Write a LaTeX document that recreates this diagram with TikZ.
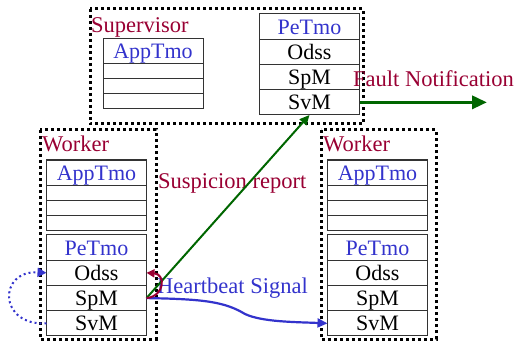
\documentclass[tikz,border=0pt]{standalone}
\usepackage{fontspec}
\setmainfont{Liberation Serif}
\usetikzlibrary{positioning,arrows.meta}

\definecolor{tmoblue}{RGB}{51,51,204}
\definecolor{labelred}{RGB}{153,0,51}
\definecolor{msggreen}{RGB}{0,102,0}

\begin{document}
\begin{tikzpicture}[
    x=1pt, y=-1pt,
    group/.style={draw, line width=3pt, dash pattern=on 3pt off 3pt},
    cell/.style={draw=black!80, line width=1pt, minimum width=100pt, minimum height=25.25pt, inner sep=0pt, outer sep=0pt, text height=15pt, text depth=0pt, font=\fontsize{22}{22}\selectfont},
    blank/.style={cell, minimum height=15pt},
    tmo/.style={cell, text=tmoblue},
    title/.style={anchor=base west, inner sep=0pt, text=labelred, font=\fontsize{22.5}{22.5}\selectfont},
    report/.style={-{Triangle[length=10pt,width=9pt]}, msggreen, line width=2pt},
    node distance=0pt
  ]
    \useasboundingbox (0,0) rectangle (522,342);

    % supervisor
    \draw[group] (90,9) rectangle (363,124);
    \node[title] (supLabel) at (91,33) {Supervisor};
    \node[tmo, minimum height=25pt] (supApp) at (153,51.5) {AppTmo};
    \node[blank, below=of supApp] (supApp1) {};
    \node[blank, below=of supApp1] (supApp2) {};
    \node[blank, below=of supApp2] (supApp3) {};
    \node[tmo] (supPe) at (309.5,26.6) {PeTmo};
    \node[cell, below=of supPe] (supOdss) {Odss};
    \node[cell, below=of supOdss] (supSpM) {SpM};
    \node[cell, below=of supSpM] (supSvM) {SvM};

    % worker (left)
    \draw[group] (40,130) rectangle (156,339);
    \node[title] (wlLabel) at (42,152) {Worker};
    \node[tmo, minimum height=25pt] (wlApp) at (96.5,172.5) {AppTmo};
    \node[blank, below=of wlApp] (wlApp1) {};
    \node[blank, below=of wlApp1] (wlApp2) {};
    \node[blank, below=of wlApp2] (wlApp3) {};
    \node[tmo] (wlPe) at (96.5,247.6) {PeTmo};
    \node[cell, below=of wlPe] (wlOdss) {Odss};
    \node[cell, below=of wlOdss] (wlSpM) {SpM};
    \node[cell, below=of wlSpM] (wlSvM) {SvM};

    % worker (right)
    \draw[group] (321,130) rectangle (436,339);
    \node[title] (wrLabel) at (323,152) {Worker};
    \node[tmo, minimum height=25pt] (wrApp) at (377.5,172.5) {AppTmo};
    \node[blank, below=of wrApp] (wrApp1) {};
    \node[blank, below=of wrApp1] (wrApp2) {};
    \node[blank, below=of wrApp2] (wrApp3) {};
    \node[tmo] (wrPe) at (377.5,247.6) {PeTmo};
    \node[cell, below=of wrPe] (wrOdss) {Odss};
    \node[cell, below=of wrOdss] (wrSpM) {SpM};
    \node[cell, below=of wrSpM] (wrSvM) {SvM};

    % messages
    \node[title] (faultLabel) at (353,87) {Fault Notification};
    \node[title] (suspLabel) at (158,188) {Suspicion report};
    \node[title, text=tmoblue] (hbLabel) at (157,293) {Heartbeat Signal};
    \coordinate (faultEnd) at (487,101);

    \draw[-{Triangle[length=15pt,width=13pt]}, msggreen, line width=3.5pt] (supSvM.east) -- (supSvM.east -| faultEnd);
    \draw[report] (wlSpM.east) -- (supSvM.south);
    \draw[-{Triangle[length=10pt,width=9pt]}, tmoblue, line width=2.2pt] (wlSpM.east) .. controls (205,299) and (225,302) .. (245,314) .. controls (262,322) and (295,322) .. (wrSvM.west);
    \draw[-{Triangle[length=8pt,width=8pt]}, labelred, line width=2pt] (wlSpM.east) .. controls (165,296) and (166,274) .. (wlOdss.east);
    \draw[-{Triangle[length=9pt,width=9pt]}, tmoblue, line width=2pt, dash pattern=on 2pt off 3pt] (wlSvM.west) .. controls (-2,326) and (-2,270) .. (wlOdss.west);
  \end{tikzpicture}
\end{document}
